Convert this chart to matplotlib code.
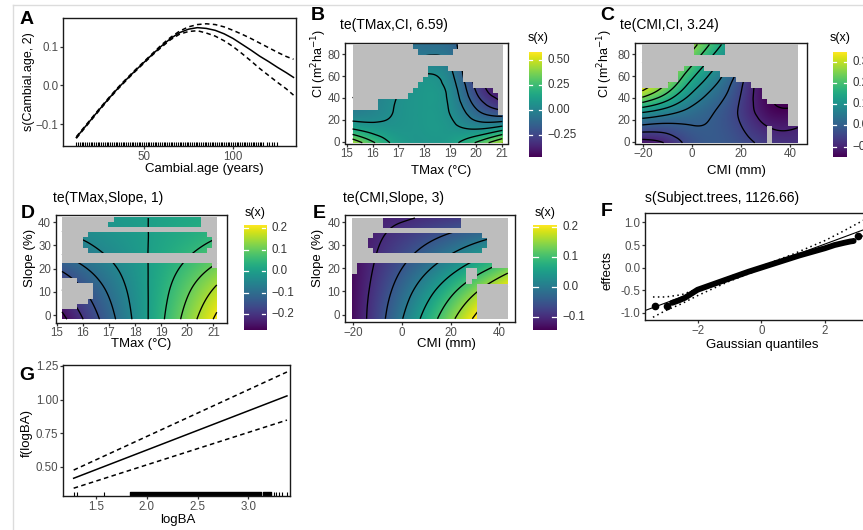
import numpy as np
import matplotlib
matplotlib.use("Agg")
import matplotlib.pyplot as plt
import matplotlib.tri as mtri
import matplotlib.ticker as mticker
import matplotlib.transforms as mtransforms
from matplotlib.lines import Line2D

plt.rcParams["font.family"] = ["Liberation Sans", "DejaVu Sans"]

# ---------------- data ----------------
# A: s(Cambial.age, 2)
age = [12, 15, 20, 25, 30, 35, 40, 45, 50, 55, 60, 65, 70, 75, 80, 85, 90,
       95, 100, 105, 110, 115, 120, 125, 130, 134]
age_fit = [-0.135, -0.118, -0.090, -0.062, -0.035, -0.009, 0.015, 0.038, 0.060,
           0.082, 0.103, 0.122, 0.137, 0.146, 0.150, 0.148, 0.143, 0.134, 0.122,
           0.107, 0.092, 0.076, 0.062, 0.047, 0.033, 0.021]
age_upper = [-0.133, -0.116, -0.088, -0.060, -0.033, -0.007, 0.017, 0.040, 0.062,
             0.084, 0.106, 0.125, 0.141, 0.152, 0.158, 0.160, 0.158, 0.152, 0.143,
             0.133, 0.122, 0.110, 0.098, 0.086, 0.075, 0.068]
age_lower = [-0.137, -0.120, -0.092, -0.064, -0.037, -0.011, 0.013, 0.036, 0.058,
             0.080, 0.100, 0.119, 0.133, 0.140, 0.142, 0.136, 0.128, 0.116, 0.101,
             0.083, 0.064, 0.044, 0.026, 0.008, -0.009, -0.025]
rug_age = list(range(12, 118)) + [119, 120, 122, 123, 125]

# B: te(TMax, CI)  (rows = CI, cols = TMax)
b_tmax = [14.8, 16, 17, 18, 19, 20, 21.2]
b_ci = [-3, 15, 30, 45, 60, 75, 92]
b_s = [[0.60, 0.30, 0.12, 0.08, 0.12, 0.30, 0.55],
       [0.12, 0.07, 0.07, 0.09, 0.07, 0.00, 0.05],
       [-0.03, 0.00, 0.06, 0.09, 0.04, -0.15, -0.28],
       [-0.06, -0.02, 0.05, 0.09, 0.02, -0.25, -0.42],
       [-0.08, -0.04, 0.03, 0.06, -0.02, -0.30, -0.46],
       [-0.10, -0.07, -0.02, -0.03, -0.07, -0.32, -0.46],
       [-0.12, -0.10, -0.08, -0.10, -0.12, -0.32, -0.45]]
# covered cells: per row (top->bottom) spans of columns (30 columns)
b_cover = [[(12, 20)], [(13, 19)], [], [], [(15, 18)], [(15, 21)], [(14, 21)],
           [(13, 23)], [(12, 27)], [(11, 28)], [(5, 28)], [(5, 28)], [(0, 28)],
           [(0, 29)], [(0, 29)], [(0, 29)], [(0, 29)], [(0, 29)]]

# C: te(CMI, CI)
c_cmi = [-22, -10, 0, 10, 20, 30, 45]
c_ci = [-3, 15, 30, 45, 60, 75, 92]
c_s = [[-0.14, -0.10, -0.03, -0.01, -0.03, -0.06, -0.08],
       [0.00, -0.01, 0.00, -0.01, -0.05, -0.10, -0.10],
       [0.14, 0.09, 0.04, 0.00, -0.06, -0.13, -0.14],
       [0.30, 0.20, 0.10, 0.03, -0.05, -0.14, -0.16],
       [0.38, 0.27, 0.16, 0.07, -0.03, -0.13, -0.17],
       [0.42, 0.32, 0.22, 0.12, 0.02, -0.08, -0.15],
       [0.45, 0.36, 0.28, 0.18, 0.08, -0.02, -0.10]]
c_cover = [[(10, 15)], [(10, 15)], [], [], [(8, 11)], [(7, 14)], [(7, 17)],
           [(5, 20)], [(0, 22)], [(0, 22)], [(0, 23)], [(0, 27)], [(0, 27)],
           [(0, 27)], [(0, 27)], [(0, 23), (25, 29)], [(0, 23), (25, 29)],
           [(0, 23), (25, 29)]]

# D: te(TMax, Slope)
d_tmax = [15, 16, 17, 18, 19, 20, 21, 21.5]
d_slope = [-3, 10, 20, 30, 40, 45]
d_s = [[-0.287, -0.205, -0.123, -0.041, 0.041, 0.123, 0.205, 0.246],
       [-0.218, -0.156, -0.094, -0.031, 0.031, 0.094, 0.156, 0.187],
       [-0.150, -0.107, -0.064, -0.021, 0.021, 0.064, 0.107, 0.129],
       [-0.082, -0.059, -0.035, -0.012, 0.012, 0.035, 0.059, 0.070],
       [-0.041, -0.029, -0.018, -0.006, 0.006, 0.018, 0.029, 0.035],
       [-0.027, -0.020, -0.012, -0.004, 0.004, 0.012, 0.020, 0.023]]
d_cover = [[(10, 26)], [(9, 26)], [], [(5, 27)], [(4, 28)], [(4, 28)], [(5, 27)],
           [], [], [(0, 28)], [(0, 29)], [(0, 29)], [(3, 29)], [(6, 29)], [(6, 29)],
           [(6, 29)], [(5, 29)], [(3, 29)], [(0, 29)], [(0, 29)]]

# E: te(CMI, Slope)
e_cmi = [-22, -10, 0, 10, 20, 30, 40, 45]
e_slope = [-3, 10, 20, 30, 40, 45]
e_s = [[-0.142, -0.071, 0.000, 0.071, 0.142, 0.213, 0.284, 0.320],
       [-0.142, -0.081, -0.025, 0.031, 0.088, 0.144, 0.200, 0.229],
       [-0.142, -0.092, -0.050, -0.008, 0.033, 0.075, 0.116, 0.138],
       [-0.142, -0.102, -0.075, -0.048, -0.021, 0.006, 0.033, 0.047],
       [-0.142, -0.112, -0.100, -0.088, -0.076, -0.063, -0.051, -0.044],
       [-0.142, -0.117, -0.113, -0.108, -0.103, -0.098, -0.093, -0.090]]
e_cover = [[(6, 20)], [(6, 20)], [], [(4, 24)], [(3, 25)], [(3, 25)], [(4, 24)],
           [], [], [(1, 26)], [(1, 21), (24, 29)], [(0, 21), (24, 29)],
           [(0, 21), (23, 29)], [(0, 23)], [(0, 23)], [(0, 23)], [(0, 23)],
           [(0, 23)], [(0, 23)], [(0, 23)]]

# F: s(Subject.trees) QQ plot
qq_x = [-3.33, -2.97, -2.8, -2.6, -2.4, -2.2, -2.0, -1.6, -1.2, -0.8, -0.4, 0.0,
        0.4, 0.8, 1.2, 1.6, 2.0, 2.3, 2.6, 2.8, 2.9, 3.05]
qq_y = [-0.86, -0.84, -0.78, -0.73, -0.67, -0.58, -0.49, -0.39, -0.29, -0.19,
        -0.09, 0.0, 0.09, 0.18, 0.27, 0.35, 0.43, 0.50, 0.55, 0.58, 0.59, 0.70]
ref_x = [-3.8, 3.6]
ref_y = [-0.99, 0.94]
band_x = [-3.4, -3.0, -2.5, -2.0, -1.0, 0.0, 1.0, 2.0, 2.5, 3.0, 3.5]
band_upper = [-0.65, -0.65, -0.60, -0.47, -0.20, 0.03, 0.30, 0.60, 0.78, 0.97, 1.16]
band_lower = [-1.10, -0.95, -0.80, -0.62, -0.30, -0.03, 0.20, 0.45, 0.55, 0.66, 0.76]

# G: f(logBA)
logba = [1.28, 3.38]
logba_fit = [0.414, 1.027]
logba_upper = [0.475, 1.205]
logba_lower = [0.340, 0.847]
rug_logba_spans = [(1.83, 3.12), (3.14, 3.22)]
rug_logba = [1.28, 1.31, 1.58, 3.25, 3.27, 3.30, 3.33, 3.38]

# ---------------- layout helpers ----------------
W, H = 863, 530
fig = plt.figure(figsize=(W / 100, H / 100), dpi=100)
GRAY_NA = (0.745, 0.745, 0.745, 1.0)
TICK_COL = "#4d4d4d"


def axes_px(l, t, r, b):
    return fig.add_axes([l / W, 1 - b / H, (r - l) / W, (b - t) / H])


def text_px(x, y, s, **kw):
    kw.setdefault("ha", "center")
    kw.setdefault("va", "center")
    fig.text(x / W, 1 - y / H, s, **kw)


def style(ax):
    for sp in ax.spines.values():
        sp.set_linewidth(1.0)
        sp.set_color("#1a1a1a")
    ax.tick_params(length=2.5, width=0.9, color="#333333", labelsize=8.3,
                   labelcolor=TICK_COL, pad=0.8)


def te_panel(box, gx, gy, gz, cover, extent, xlim, ylim, xticks, yticks,
             vmin, vmax, levels):
    ax = axes_px(*box)
    X, Y = np.meshgrid(gx, gy)
    nx = len(gx)
    tris = []
    for j in range(len(gy) - 1):
        for i in range(nx - 1):
            a = j * nx + i
            tris.append([a, a + 1, a + nx + 1])
            tris.append([a, a + nx + 1, a + nx])
    tri = mtri.Triangulation(X.ravel(), Y.ravel(), tris)
    interp = mtri.CubicTriInterpolator(tri, np.asarray(gz, float).ravel(), kind="min_E")
    x0, x1, y0, y1 = extent
    FX, FY = np.meshgrid(np.linspace(x0, x1, 320), np.linspace(y0, y1, 220))
    FZ = interp(FX, FY)
    ax.imshow(FZ, extent=extent, origin="lower", cmap="viridis", vmin=vmin,
              vmax=vmax, aspect="auto", interpolation="bilinear", zorder=1)
    ax.contour(FX, FY, FZ, levels=levels, colors="black", linewidths=0.95,
               linestyles="solid", zorder=2)
    ncol = 30
    rgba = np.zeros((len(cover), ncol, 4))
    rgba[:, :] = GRAY_NA
    for r, spans in enumerate(cover):
        for c0, c1 in spans:
            rgba[r, c0:c1 + 1] = (0, 0, 0, 0)
    ax.imshow(rgba, extent=extent, origin="upper", aspect="auto",
              interpolation="nearest", zorder=3)
    ax.set_xlim(xlim)
    ax.set_ylim(ylim)
    ax.set_xticks(xticks)
    ax.set_yticks(yticks)
    style(ax)
    return ax


def cbar(box, vmin, vmax, ticks, labels):
    cax = axes_px(*box)
    grad = np.linspace(vmin, vmax, 256).reshape(-1, 1)
    cax.imshow(grad, extent=(0, 1, vmin, vmax), origin="lower", aspect="auto",
               cmap="viridis", vmin=vmin, vmax=vmax)
    blend = mtransforms.blended_transform_factory(cax.transAxes, cax.transData)
    for tk, lab in zip(ticks, labels):
        cax.plot([0, 0.2], [tk, tk], color="white", lw=0.9)
        cax.plot([0.8, 1], [tk, tk], color="white", lw=0.9)
        cax.annotate(lab, xy=(1, tk), xycoords=blend, xytext=(4, 0),
                     textcoords="offset points", va="center", ha="left",
                     fontsize=8.3, color="#333333", annotation_clip=False)
    cax.set_xlim(0, 1)
    cax.set_ylim(vmin, vmax)
    cax.axis("off")


# faint page borders
fig.add_artist(Line2D([13 / W, 1], [1 - 5 / H, 1 - 5 / H], color="#dcdcdc", lw=1))
fig.add_artist(Line2D([13 / W, 13 / W], [0, 1 - 5 / H], color="#dcdcdc", lw=1))

# ---------------- A ----------------
axA = axes_px(63, 18, 296, 146)
axA.plot(age, age_fit, color="black", lw=1.1)
axA.plot(age, age_upper, color="black", lw=1.1, ls=(0, (3, 2.2)))
axA.plot(age, age_lower, color="black", lw=1.1, ls=(0, (3, 2.2)))
axA.vlines(rug_age, 0, 0.028, transform=axA.get_xaxis_transform(), color="black", lw=0.8)
axA.set_xlim(4.5, 135.4)
axA.set_ylim(-0.157, 0.175)
axA.set_xticks([50, 100])
axA.set_yticks([-0.1, 0.0, 0.1])
axA.set_yticklabels(["\u22120.1", "0.0", "0.1"])
style(axA)
text_px(27, 19, "A", fontsize=14, fontweight="bold")
text_px(29, 82, "s(Cambial.age, 2)", fontsize=9, rotation=90)
text_px(204, 169, "Cambial.age (years)", fontsize=9.5)

# ---------------- B ----------------
te_panel((345, 43, 508, 143.5), b_tmax, b_ci, b_s, b_cover, (15.23, 21.0, -1, 89),
         (14.94, 21.22), (-1.65, 90.3), range(15, 22), [0, 20, 40, 60, 80],
         -0.47, 0.58, np.arange(-0.45, 0.56, 0.1))
cbar((529, 52, 542, 157), -0.47, 0.58, [0.5, 0.25, 0.0, -0.25],
     ["0.50", "0.25", "0.00", "\u22120.25"])
text_px(318, 16, "B", fontsize=14, fontweight="bold")
text_px(340, 25, "te(TMax,CI, 6.59)", fontsize=10, ha="left")
text_px(319, 63, "CI (m$^{2}$ha$^{-1}$)", fontsize=9, rotation=90)
text_px(441, 171, "TMax (\u00b0C)", fontsize=9.5)
text_px(538, 38, "s(x)", fontsize=9)

# ---------------- C ----------------
te_panel((635, 43, 807, 143.5), c_cmi, c_ci, c_s, c_cover, (-20.4, 43.15, -1, 89),
         (-23.4, 46.95), (-1.65, 90.3), [-20, 0, 20, 40], [0, 20, 40, 60, 80],
         -0.148, 0.345, np.arange(-0.15, 0.46, 0.05))
cbar((833, 52, 847, 157), -0.148, 0.345, [0.3, 0.2, 0.1, 0.0, -0.1],
     ["0.3", "0.2", "0.1", "0.0", "\u22120.1"])
text_px(607, 16, "C", fontsize=14, fontweight="bold")
text_px(620, 25, "te(CMI,CI, 3.24)", fontsize=10, ha="left")
text_px(605, 63, "CI (m$^{2}$ha$^{-1}$)", fontsize=9, rotation=90)
text_px(736, 171, "CMI (mm)", fontsize=9.5)
text_px(840, 38, "s(x)", fontsize=9)

# ---------------- D ----------------
te_panel((55.7, 215, 227, 322.5), d_tmax, d_slope, d_s, d_cover, (15.2, 21.13, -1.8, 41.8),
         (14.96, 21.52), (-3.2, 43.1), range(15, 22), [0, 10, 20, 30, 40],
         -0.274, 0.214, np.arange(-0.25, 0.21, 0.05))
cbar((244, 225, 266, 330), -0.274, 0.214, [0.2, 0.1, 0.0, -0.1, -0.2],
     ["0.2", "0.1", "0.0", "\u22120.1", "\u22120.2"])
text_px(28, 213, "D", fontsize=14, fontweight="bold")
text_px(53, 198, "te(TMax,Slope, 1)", fontsize=10, ha="left")
text_px(30, 258, "Slope (%)", fontsize=9.5, rotation=90)
text_px(141, 344, "TMax (\u00b0C)", fontsize=9.5)
text_px(255, 213, "s(x)", fontsize=9)

# ---------------- E ----------------
te_panel((345, 215, 515, 322), e_cmi, e_slope, e_s, e_cover, (-20.4, 43.5, -1.8, 41.8),
         (-23.4, 46.45), (-3.2, 43.1), [-20, 0, 20, 40], [0, 10, 20, 30, 40],
         -0.143, 0.207, np.arange(-0.1, 0.21, 0.05))
cbar((533, 225, 557, 330), -0.143, 0.207, [0.2, 0.1, 0.0, -0.1],
     ["0.2", "0.1", "0.0", "\u22120.1"])
text_px(319, 213, "E", fontsize=14, fontweight="bold")
text_px(343, 198, "te(CMI,Slope, 3)", fontsize=10, ha="left")
text_px(318, 258, "Slope (%)", fontsize=9.5, rotation=90)
text_px(446, 344, "CMI (mm)", fontsize=9.5)
text_px(545, 213, "s(x)", fontsize=9)

# ---------------- F ----------------
axF = axes_px(645, 213, 875, 320)
axF.plot(ref_x, ref_y, color="black", lw=0.8)
axF.plot(band_x, band_upper, color="black", lw=1.1, ls=(0, (1, 2.2)))
axF.plot(band_x, band_lower, color="black", lw=1.1, ls=(0, (1, 2.2)))
axF.plot(qq_x[2:-1], qq_y[2:-1], color="black", lw=4.2, solid_capstyle="round")
axF.plot(qq_x[:2] + qq_x[-1:], qq_y[:2] + qq_y[-1:], "o", color="black", ms=4.5)
axF.set_xlim(-3.65, 3.57)
axF.set_ylim(-1.16, 1.21)
axF.set_xticks([-2, 0, 2])
axF.set_yticks([-1.0, -0.5, 0.0, 0.5, 1.0])
axF.yaxis.set_major_formatter(mticker.FormatStrFormatter("%.1f"))
style(axF)
text_px(607, 212, "F", fontsize=14, fontweight="bold")
text_px(645, 198, "s(Subject.trees, 1126.66)", fontsize=10, ha="left")
text_px(607, 270, "effects", fontsize=9.5, rotation=90)
text_px(762, 345, "Gaussian quantiles", fontsize=9.5)

# ---------------- G ----------------
axG = axes_px(63, 365, 290, 496)
axG.plot(logba, logba_fit, color="black", lw=1.1)
axG.plot(logba, logba_upper, color="black", lw=1.1, ls=(0, (3, 2.2)))
axG.plot(logba, logba_lower, color="black", lw=1.1, ls=(0, (3, 2.2)))
axG.broken_barh([(a, b - a) for a, b in rug_logba_spans], (0, 0.032),
                transform=axG.get_xaxis_transform(), color="black")
axG.vlines(rug_logba, 0, 0.032, transform=axG.get_xaxis_transform(), color="black", lw=0.8)
axG.set_xlim(1.175, 3.41)
axG.set_ylim(0.282, 1.257)
axG.set_xticks([1.5, 2.0, 2.5, 3.0])
axG.set_yticks([0.5, 0.75, 1.0, 1.25])
axG.yaxis.set_major_formatter(mticker.FormatStrFormatter("%.2f"))
axG.xaxis.set_major_formatter(mticker.FormatStrFormatter("%.1f"))
style(axG)
text_px(27, 375, "G", fontsize=14, fontweight="bold")
text_px(27, 433, "f(logBA)", fontsize=9.5, rotation=90)
text_px(178, 520, "logBA", fontsize=9.5)

fig.savefig("out.png", dpi=100, facecolor="white")
